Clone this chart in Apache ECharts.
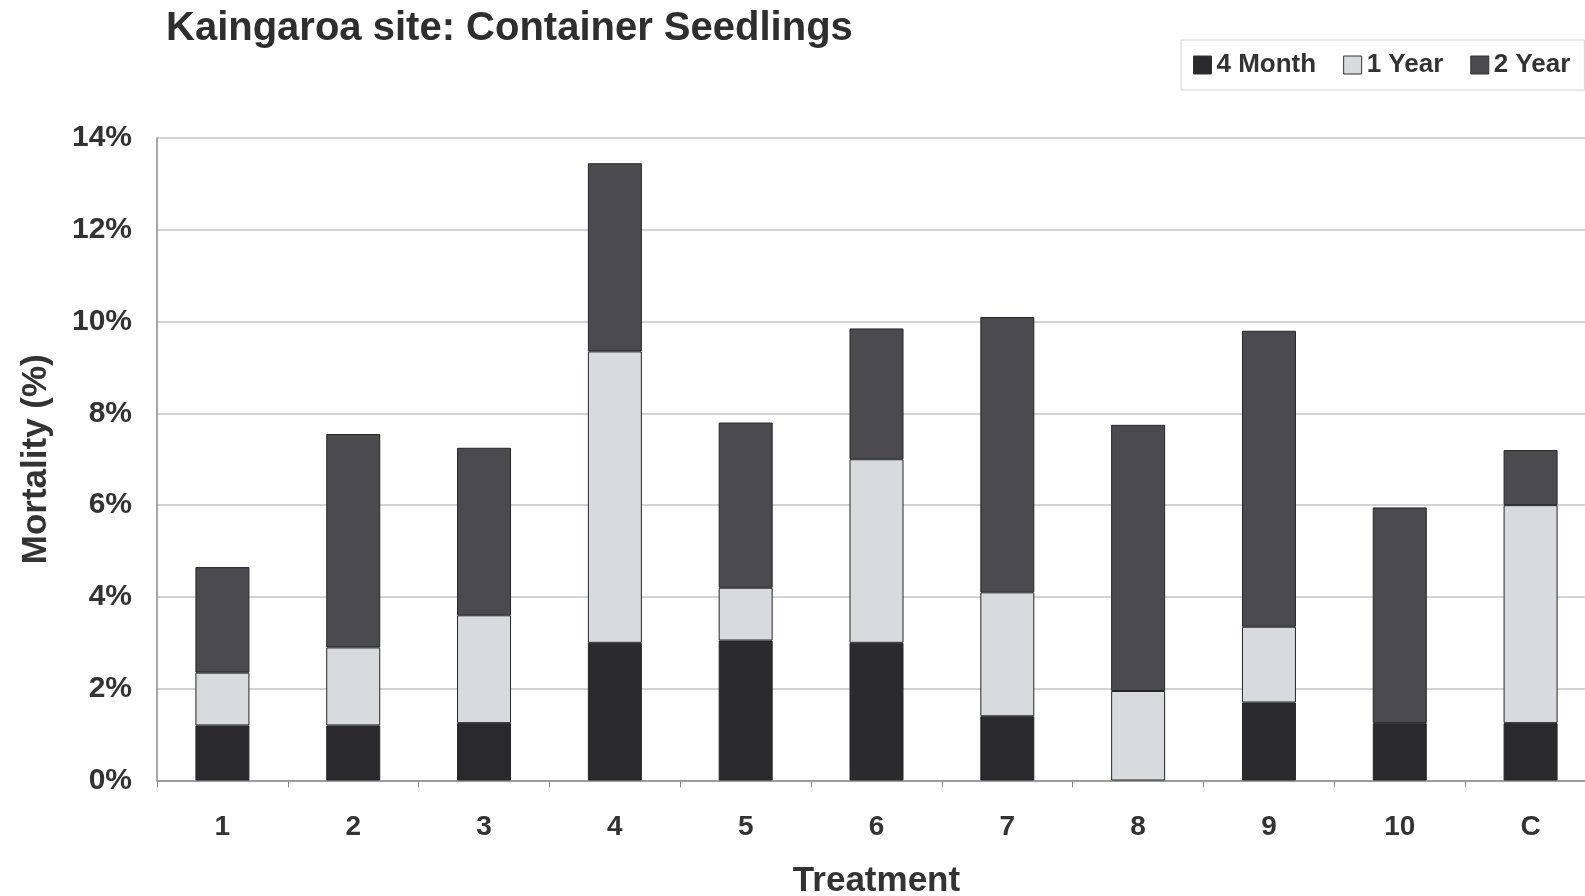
<!DOCTYPE html>
<html>
<head>
<meta charset="utf-8">
<style>
  html, body { margin: 0; padding: 0; background: #fff; }
  #chart { width: 1585px; height: 896px; }
</style>
<script src="https://cdn.jsdelivr.net/npm/echarts@6/dist/echarts.min.js"></script>
</head>
<body>
<div id="chart"></div>
<script>
// Treatments on the x axis
const treatments = ['1', '2', '3', '4', '5', '6', '7', '8', '9', '10', 'C'];

// Mortality (%) added in each assessment period, stacked per treatment
const month4 = [1.2, 1.2, 1.25, 3.0, 3.05, 3.0, 1.4, 0, 1.7, 1.25, 1.25];
const year1  = [1.15, 1.7, 2.35, 6.35, 1.15, 4.0, 2.7, 1.95, 1.65, 0, 4.75];
const year2  = [2.3, 4.65, 3.65, 4.1, 3.6, 2.85, 6.0, 5.8, 6.45, 4.7, 1.2];

const seriesNames = ['4 Month', '1 Year', '2 Year'];
const seriesColors = ['#2a2a2c', '#d9dadd', '#4b4b4f'];

const FONT = '"Liberation Sans", Arial, sans-serif';

const chart = echarts.init(document.getElementById('chart'), null, { renderer: 'canvas' });

// Zero-height segments get no outline so they don't leave a stray line
function barSeries(name, data, color) {
  return {
    name: name,
    type: 'bar',
    stack: 'total',
    data: data.map(v => v === 0 ? { value: v, itemStyle: { borderWidth: 0 } } : v),
    barWidth: 54,
    itemStyle: { color: color, borderColor: '#262626', borderWidth: 1 },
    emphasis: { disabled: true }
  };
}

chart.setOption({
  animation: false,
  backgroundColor: '#ffffff',
  title: {
    text: 'Kaingaroa site: Container Seedlings',
    left: 166,
    top: 9,
    padding: 0,
    textStyle: { fontFamily: FONT, fontWeight: 'bold', fontSize: 40, color: '#2e2e2e' }
  },
  legend: {
    data: seriesNames,
    left: 1181,
    top: 40,
    itemWidth: 18,
    itemHeight: 18,
    itemGap: 27,
    padding: [12, 14, 12, 12],
    borderColor: '#d4d4d4',
    borderWidth: 1,
    icon: 'rect',
    itemStyle: { borderColor: '#333', borderWidth: 1 },
    textStyle: { fontFamily: FONT, fontWeight: 'bold', fontSize: 26, color: '#333' }
  },
  grid: {
    left: 157,
    right: -11,
    top: 138,
    bottom: 115.5,
    outerBoundsMode: 'none',
    containLabel: false
  },
  xAxis: {
    type: 'category',
    data: treatments,
    name: 'Treatment',
    nameLocation: 'middle',
    nameGap: 83,
    nameTextStyle: { fontFamily: FONT, fontWeight: 'bold', fontSize: 35, color: '#333' },
    axisLine: { lineStyle: { color: '#8a8a8a', width: 1.5 } },
    axisTick: { show: true, length: 7, lineStyle: { color: '#8a8a8a' } },
    axisLabel: { fontFamily: FONT, fontWeight: 'bold', fontSize: 28, color: '#333', margin: 33 }
  },
  yAxis: {
    type: 'value',
    min: 0,
    max: 14,
    interval: 2,
    name: 'Mortality (%)',
    nameLocation: 'middle',
    nameGap: 103,
    nameTextStyle: { fontFamily: FONT, fontWeight: 'bold', fontSize: 35, color: '#333' },
    axisLine: { show: true, lineStyle: { color: '#8a8a8a', width: 1.5 } },
    axisTick: { show: false },
    axisLabel: {
      fontFamily: FONT, fontWeight: 'bold', fontSize: 30, color: '#333', margin: 25,
      formatter: v => v + '%'
    },
    splitLine: { show: true, lineStyle: { color: '#c4c4c4', width: 1.5 } }
  },
  series: [
    barSeries(seriesNames[0], month4, seriesColors[0]),
    barSeries(seriesNames[1], year1, seriesColors[1]),
    barSeries(seriesNames[2], year2, seriesColors[2])
  ]
});
</script>
</body>
</html>
